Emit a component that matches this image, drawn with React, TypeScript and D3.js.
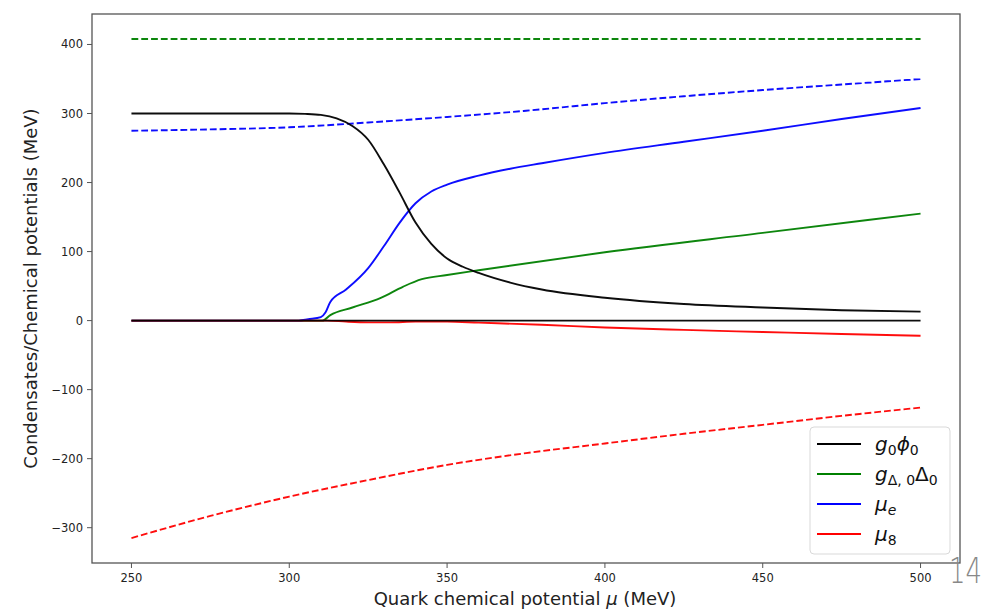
import React from "react";
import * as d3 from "d3";

// condensates and chemical potentials vs quark chemical potential mu (MeV)
const muPhi = [250, 300, 305, 310, 315, 320, 325, 330, 335, 340, 345, 350, 355, 360, 370, 380, 400, 425, 450, 475, 500];
const phiVals = [300, 300, 299.5, 298, 293, 282, 262, 226, 185, 142, 111, 90, 78, 69, 55, 45, 33, 24, 19, 15, 13];

const muDelta = [250, 310.5, 313, 320, 329, 336, 342, 350, 360, 400, 450, 500];
const deltaVals = [0, 0, 8, 19, 33, 49, 60, 66, 73, 99, 127, 155];

const muE = [250, 303, 306, 310, 311.5, 313, 318, 325, 330, 335, 340, 345, 350, 360, 370, 380, 400, 425, 450, 475, 500];
const muEVals = [0, 0, 2, 5, 12, 27, 45, 76, 108, 142, 170, 187, 197, 210, 220, 228, 243, 259, 275, 292, 308];

const mu8 = [250, 312, 318, 325, 332, 340, 350, 360, 380, 400, 425, 450, 475, 500];
const mu8Vals = [0, 0, -1.5, -2.5, -2.5, -1.5, -1.5, -3, -6, -10, -13.5, -16.5, -19.5, -22];

const muDash = [250, 275, 300, 325, 350, 375, 400, 425, 450, 475, 500];
const blueDashVals = [275, 277, 280, 287, 295, 304, 315, 325, 334, 342, 350];
const redDashVals = [-315, -283, -255, -231, -209, -192, -178, -164, -151, -138, -126];

const muEnds = [250, 500];
const greenDashVals = [408, 408];
const zeroVals = [0, 0];

const xTicks = [250, 300, 350, 400, 450, 500];
const yTicks = [-300, -200, -100, 0, 100, 200, 300, 400];

const W = 987;
const H = 611;
const left = 92, right = 960, top = 14, bottom = 563;

const x = d3.scaleLinear().domain([237.5, 512.5]).range([left, right]);
const y = d3.scaleLinear().domain([-351.15, 444.15]).range([bottom, top]);

const line = d3
  .line<[number, number]>()
  .x(d => x(d[0]))
  .y(d => y(d[1]))
  .curve(d3.curveMonotoneX);

const zip = (a: number[], b: number[]) => a.map((v, i) => [v, b[i]] as [number, number]);

const series = [
  { xs: muEnds, ys: greenDashVals, color: "#008000", dash: true },
  { xs: muDash, ys: blueDashVals, color: "#0000ff", dash: true },
  { xs: muDash, ys: redDashVals, color: "#ff0000", dash: true },
  { xs: muDelta, ys: deltaVals, color: "#008000", dash: false },
  { xs: muE, ys: muEVals, color: "#0000ff", dash: false },
  { xs: mu8, ys: mu8Vals, color: "#ff0000", dash: false },
  { xs: muPhi, ys: phiVals, color: "#000000", dash: false },
  { xs: muEnds, ys: zeroVals, color: "#000000", dash: false },
];

const fmt = (v: number) => (v < 0 ? "\u2212" + Math.abs(v) : String(v));

const font = "DejaVu Sans, sans-serif";

function LegendLabel({ i }: { i: number }) {
  const sub = { fontSize: 14, dy: 4 };
  if (i === 0)
    return (
      <>
        <tspan fontStyle="italic">g</tspan>
        <tspan fontSize={sub.fontSize} dy={sub.dy}>0</tspan>
        <tspan fontStyle="italic" dy={-sub.dy}>ϕ</tspan>
        <tspan fontSize={sub.fontSize} dy={sub.dy}>0</tspan>
      </>
    );
  if (i === 1)
    return (
      <>
        <tspan fontStyle="italic">g</tspan>
        <tspan fontSize={sub.fontSize} dy={sub.dy}>Δ, 0</tspan>
        <tspan dy={-sub.dy}>Δ</tspan>
        <tspan fontSize={sub.fontSize} dy={sub.dy}>0</tspan>
      </>
    );
  if (i === 2)
    return (
      <>
        <tspan fontStyle="italic">μ</tspan>
        <tspan fontSize={sub.fontSize} dy={sub.dy} fontStyle="italic">e</tspan>
      </>
    );
  return (
    <>
      <tspan fontStyle="italic">μ</tspan>
      <tspan fontSize={sub.fontSize} dy={sub.dy}>8</tspan>
    </>
  );
}

const legendColors = ["#000000", "#008000", "#0000ff", "#ff0000"];

export default function App() {
  return (
    <svg
      width={W}
      height={H}
      style={{ position: "absolute", left: 0, top: 0, background: "#fff" }}
      fontFamily={font}
    >
      <defs>
        <clipPath id="plot-clip">
          <rect x={left} y={top} width={right - left} height={bottom - top} />
        </clipPath>
      </defs>

      <g clipPath="url(#plot-clip)">
        {series.map((s, i) => (
          <path
            key={i}
            d={line(zip(s.xs, s.ys)) || ""}
            fill="none"
            stroke={s.color}
            strokeWidth={1.9}
            strokeDasharray={s.dash ? "6.8,3" : undefined}
            opacity={0.95}
          />
        ))}
      </g>

      <rect x={left} y={top} width={right - left} height={bottom - top} fill="none" stroke="#555" strokeWidth={1.3} />

      {xTicks.map(t => (
        <g key={t}>
          <line x1={x(t)} x2={x(t)} y1={bottom} y2={bottom + 5} stroke="#555" strokeWidth={1} />
          <text x={x(t)} y={bottom + 19} fontSize={11.5} textAnchor="middle" fill="#222">
            {t}
          </text>
        </g>
      ))}
      {yTicks.map(t => (
        <g key={t}>
          <line x1={left - 5} x2={left} y1={y(t)} y2={y(t)} stroke="#555" strokeWidth={1} />
          <text x={left - 9} y={y(t) + 4} fontSize={11.5} textAnchor="end" fill="#222">
            {fmt(t)}
          </text>
        </g>
      ))}

      <text x={(left + right) / 2 - 1} y={605} fontSize={18} textAnchor="middle" fill="#222">
        Quark chemical potential <tspan fontStyle="italic">μ</tspan> (MeV)
      </text>
      <text
        transform={`translate(37, ${(top + bottom) / 2}) rotate(-90)`}
        fontSize={18}
        textAnchor="middle"
        fill="#222"
      >
        Condensates/Chemical potentials (MeV)
      </text>

      <g>
        <rect x={810} y={427} width={140} height={127} rx={4} fill="#fff" fillOpacity={0.8} stroke="#d9d9d9" strokeWidth={1} />
        {legendColors.map((c, i) => (
          <g key={i}>
            <line x1={817} x2={861} y1={444 + i * 30} y2={444 + i * 30} stroke={c} strokeWidth={1.9} />
            <text x={875} y={451 + i * 30} fontSize={20} fill="#111">
              <LegendLabel i={i} />
            </text>
          </g>
        ))}
      </g>

      <text x={949} y={583} fontSize={36} fill="#888" textLength={33} lengthAdjust="spacingAndGlyphs" fontWeight={300}>
        14
      </text>
    </svg>
  );
}
